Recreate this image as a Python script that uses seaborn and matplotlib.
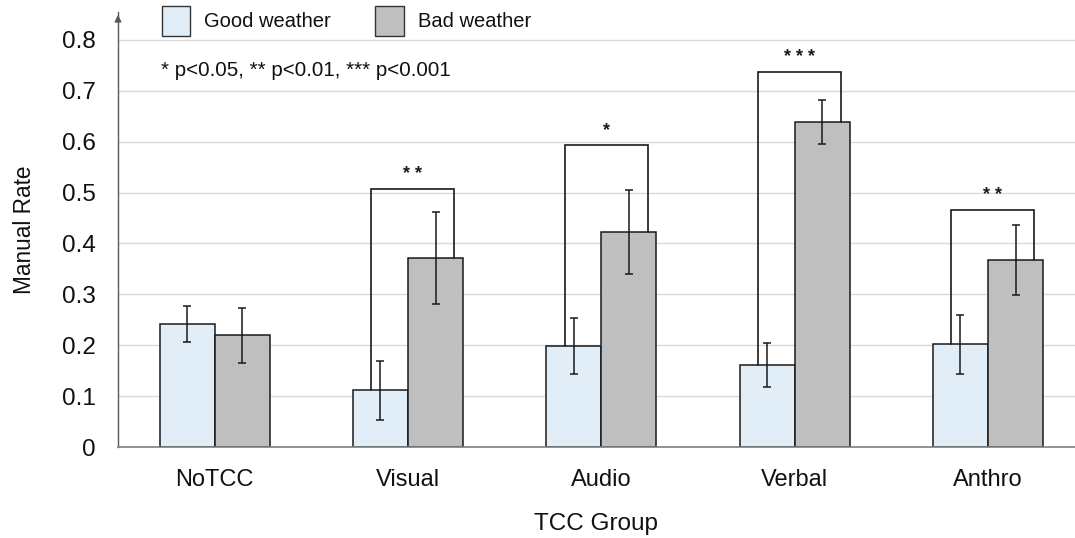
import matplotlib
matplotlib.use("Agg")
import matplotlib.pyplot as plt
import seaborn as sns
import pandas as pd
from matplotlib.patches import Patch

# Manual-control rate by TCC group and weather condition
groups = ["NoTCC", "Visual", "Audio", "Verbal", "Anthro"]
good_mean = [0.242, 0.112, 0.198, 0.161, 0.202]
good_err = [0.035, 0.058, 0.055, 0.044, 0.058]
bad_mean = [0.220, 0.371, 0.423, 0.639, 0.368]
bad_err = [0.054, 0.090, 0.083, 0.043, 0.069]
conditions = ["Good weather", "Bad weather"]
sig_labels = ["", "**", "*", "***", "**"]
bracket_tops = [None, 0.507, 0.593, 0.737, 0.466]
yticks = [0, 0.1, 0.2, 0.3, 0.4, 0.5, 0.6, 0.7, 0.8]

df = pd.DataFrame({
    "group": groups * 2,
    "condition": [conditions[0]] * len(groups) + [conditions[1]] * len(groups),
    "rate": good_mean + bad_mean,
})

sns.set_theme(style="white")
plt.rcParams["font.family"] = ["Liberation Sans", "DejaVu Sans"]

fig = plt.figure(figsize=(10.75, 5.38), dpi=100)
ax = fig.add_axes([118 / 1075, 1 - 447 / 538, 1 - 118 / 1075, (447 - 12) / 538])

palette = {"Good weather": "#E1EEF8", "Bad weather": "#BFBFBF"}
sns.barplot(data=df, x="group", y="rate", hue="condition", order=groups,
            hue_order=conditions, palette=palette, width=0.57, gap=0,
            errorbar=None, edgecolor="#1a1a1a", linewidth=1.1, saturation=1,
            ax=ax, zorder=2, legend=False)

# error bars at each bar centre
for cont, errs in zip(ax.containers, [good_err, bad_err]):
    for patch, e in zip(cont.patches, errs):
        xc = patch.get_x() + patch.get_width() / 2
        ax.errorbar(xc, patch.get_height(), yerr=e, fmt="none", ecolor="#1a1a1a",
                    elinewidth=1.1, capsize=3, capthick=1.1, zorder=4)

# significance brackets
good_bars = ax.containers[0].patches
bad_bars = ax.containers[1].patches
for i, lab in enumerate(sig_labels):
    if not lab:
        continue
    top = bracket_tops[i]
    xl = i - 0.19
    xr = i + 0.24
    ax.plot([xl, xl, xr, xr], [good_bars[i].get_height(), top, top, bad_bars[i].get_height()],
            color="#1a1a1a", lw=1.2, zorder=5, solid_joinstyle="miter")
    ax.text((xl + xr) / 2, top + 0.012, " ".join(lab), ha="center", va="bottom",
            fontsize=13, fontweight="bold", color="#1a1a1a")

ax.set_ylim(0, 0.855)
ax.set_xlim(-0.5, 4.45)
ax.set_yticks(yticks)
ax.set_yticklabels(["0"] + [f"{v:.1f}" for v in yticks[1:]])
ax.yaxis.grid(True, color="#D9D9D9", lw=1.0, zorder=0)
ax.set_axisbelow(True)
ax.tick_params(axis="y", length=0, pad=16, labelsize=17.5, colors="#111111")
ax.tick_params(axis="x", length=0, pad=16, labelsize=17, colors="#111111")
for s in ["top", "right"]:
    ax.spines[s].set_visible(False)
ax.spines["left"].set_color("#595959")
ax.spines["bottom"].set_color("#7f7f7f")
ax.spines["left"].set_linewidth(1.0)
ax.spines["bottom"].set_linewidth(1.2)

# arrow head on the y axis
ax.annotate("", xy=(0, 1.0), xytext=(0, 0.97), xycoords="axes fraction",
            arrowprops=dict(arrowstyle="-|>", color="#595959", lw=1.0,
                            mutation_scale=10), annotation_clip=False)

ax.set_ylabel("Manual Rate", fontsize=16.3, labelpad=19, color="#111111")
ax.set_xlabel("TCC Group", fontsize=17.5, labelpad=16, color="#111111")

ax.text(-0.5 + (161 - 118) / 194, 0.741, "* p<0.05, ** p<0.01, *** p<0.001",
        fontsize=14.8, va="center", ha="left", color="#111111")

handles = [Patch(facecolor=palette[c], edgecolor="#333333", lw=1.0) for c in conditions]
leg = fig.legend(handles, conditions, loc="upper left", bbox_to_anchor=(150 / 1075, 1.012),
                 ncol=2, frameon=False, fontsize=14.5, handlelength=1.4,
                 handleheight=1.95, columnspacing=2.2, handletextpad=0.7,
                 borderaxespad=0.2)
for t in leg.get_texts():
    t.set_color("#111111")

fig.savefig("out.png", dpi=100)
